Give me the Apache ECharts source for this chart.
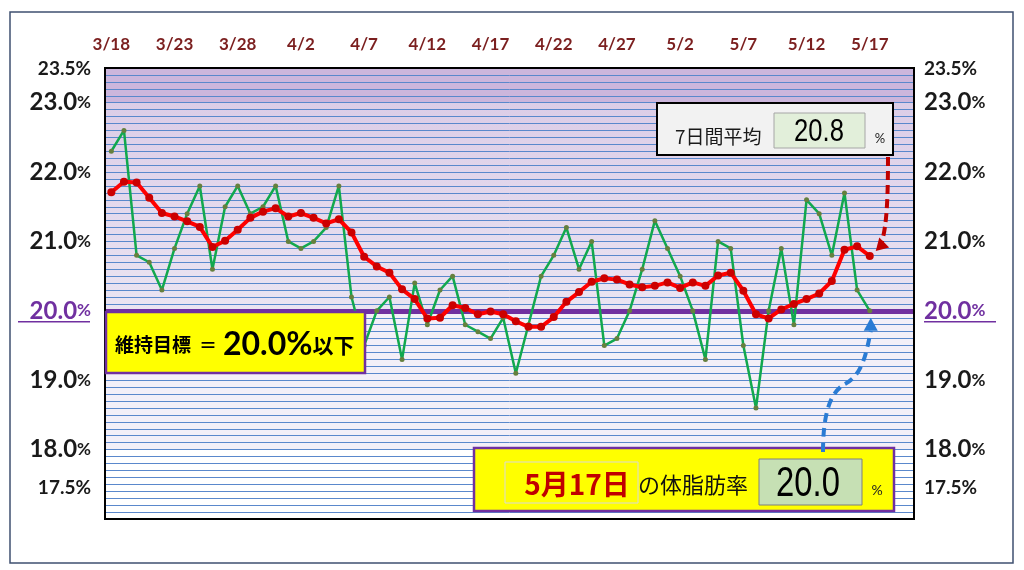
<!DOCTYPE html>
<html><head><meta charset="utf-8">
<script src="https://cdn.jsdelivr.net/npm/echarts@6/dist/echarts.min.js"></script>
<style>html,body{margin:0;padding:0;background:#fff}#c{width:1024px;height:570px}</style>
</head><body><div id="c"></div>
<script>
const dates = ['3/18','3/19','3/20','3/21','3/22','3/23','3/24','3/25','3/26','3/27','3/28','3/29','3/30','3/31',
'4/1','4/2','4/3','4/4','4/5','4/6','4/7','4/8','4/9','4/10','4/11','4/12','4/13','4/14','4/15','4/16','4/17','4/18','4/19','4/20',
'4/21','4/22','4/23','4/24','4/25','4/26','4/27','4/28','4/29','4/30',
'5/1','5/2','5/3','5/4','5/5','5/6','5/7','5/8','5/9','5/10','5/11','5/12','5/13','5/14','5/15','5/16','5/17','5/18','5/19','5/20'];
const daily = [22.3,22.6,20.8,20.7,20.3,20.9,21.4,21.8,20.6,21.5,21.8,21.4,21.5,21.8,21.0,20.9,21.0,21.2,21.8,20.2,
19.5,20.0,20.2,19.3,20.4,19.8,20.3,20.5,19.8,19.7,19.6,19.9,19.1,19.8,20.5,20.8,21.2,20.6,21.0,19.5,
19.6,20.0,20.6,21.3,20.9,20.5,20.0,19.3,21.0,20.9,19.5,18.6,20.0,20.9,19.8,21.6,21.4,20.8,21.7,20.3,20.0];
const avg7 = [21.71,21.86,21.85,21.63,21.41,21.36,21.29,21.21,20.92,21.01,21.17,21.34,21.43,21.48,21.36,21.41,21.34,21.26,21.32,21.13,
20.78,20.64,20.55,20.31,20.17,19.89,19.90,20.08,20.04,19.95,19.99,19.95,19.85,19.77,19.77,19.91,20.13,20.27,20.42,20.47,
20.45,20.38,20.34,20.36,20.41,20.33,20.41,20.36,20.51,20.55,20.29,19.95,19.89,20.02,20.10,20.17,20.25,20.43,20.88,20.93,20.79];
const yTickLabels = [23.5,23.0,22.0,21.0,20.0,19.0,18.0,17.5];
const targetValue = 20.0;
const avgText = '20.8';
const todayText = '20.0';
const todayLabel = '5月17日';

const chart = echarts.init(document.getElementById('c'));
const numFont = 'Lato, "Open Sans", sans-serif';
const jpFont = '"Noto Sans CJK JP", sans-serif';
const narrowFont = '"Liberation Sans Narrow", "Liberation Sans", Arial, sans-serif';

function yFmt(v){
  const k = Math.round(v*10)/10;
  if (!yTickLabels.includes(k)) return '';
  const s = k.toFixed(1);
  if (k === 23.5) return '{s|' + s + '%}';
  if (k === 17.5) return '{s2|' + s + '%}';
  if (k === targetValue) return '{pn|' + s + '}{pp|%}';
  return '{n|' + s + '}{p|%}';
}
const yRich = {
  n:{fontSize:24,fontWeight:'bold',color:'#1a1a1a',fontFamily:numFont},
  p:{fontSize:17,fontWeight:'bold',color:'#1a1a1a',fontFamily:numFont},
  s:{fontSize:19,fontWeight:'bold',color:'#1a1a1a',fontFamily:numFont,padding:[2,0,0,0]},
  s2:{fontSize:19,fontWeight:'bold',color:'#1a1a1a',fontFamily:numFont,padding:[8,0,0,0]},
  pn:{fontSize:24,fontWeight:'bold',color:'#7030a0',fontFamily:numFont},
  pp:{fontSize:17,fontWeight:'bold',color:'#7030a0',fontFamily:numFont}
};

chart.setOption({
  animation:false,
  grid:{left:105,top:68,right:110,bottom:51,containLabel:false},
  xAxis:{type:'category',data:dates,position:'top',boundaryGap:true,
    axisLine:{show:false},axisTick:{show:false},splitLine:{show:false},
    axisLabel:{interval:4,margin:15,color:'#7b1f1f',fontSize:17,fontWeight:'bold',fontFamily:numFont}},
  yAxis:[
    {type:'value',min:17,max:23.5,interval:0.1,position:'left',z:2,
     axisLine:{show:false},axisTick:{show:false},
     splitLine:{show:true,lineStyle:{color:'#5a88cc',width:1}},
     axisLabel:{margin:14,formatter:yFmt,rich:yRich,align:'right'}},
    {type:'value',min:17,max:23.5,interval:0.1,position:'right',
     axisLine:{show:false},axisTick:{show:false},splitLine:{show:false},
     axisLabel:{margin:10,formatter:yFmt,rich:yRich,align:'left'}}
  ],
  series:[
    {type:'line',name:'bg',z:1,data:dates.map(()=>null),symbol:'none',silent:true,
     markArea:{silent:true,data:[
      [{yAxis:23.5,itemStyle:{color:'#ccb6dc'}},{yAxis:23.0}],
      [{yAxis:23.0,itemStyle:{color:{type:'linear',x:0,y:0,x2:0,y2:1,colorStops:[{offset:0,color:'#dccde7'},{offset:1,color:'#ebe4f2'}]}}},{yAxis:20.0}],
      [{yAxis:20.0,itemStyle:{color:'#f3eff8'}},{yAxis:18.0}],
      [{yAxis:18.0,itemStyle:{color:'#ffffff'}},{yAxis:17.0}]
     ]}},
    {type:'line',name:'体脂肪率',z:5,data:daily,symbol:'circle',symbolSize:5,
     lineStyle:{color:'#12a84e',width:2.5},itemStyle:{color:'#66803e'}},
    {type:'line',name:'target',z:6,data:dates.map(()=>null),symbol:'none',silent:true,
     markLine:{silent:true,symbol:'none',label:{show:false},
       lineStyle:{color:'#7030a0',width:5,type:'solid'},data:[{yAxis:targetValue}]}},
    {type:'line',name:'7日間平均',z:7,data:avg7,symbol:'circle',symbolSize:8,
     lineStyle:{color:'#ff0000',width:4},itemStyle:{color:'#cc0000'}}
  ]
});

function arrowHead(tip, angle, len, half, color){
  const bx = tip[0] - Math.cos(angle)*len, by = tip[1] - Math.sin(angle)*len;
  const px = -Math.sin(angle)*half, py = Math.cos(angle)*half;
  return {type:'polygon',z:120,shape:{points:[tip,[bx+px,by+py],[bx-px,by-py]]},style:{fill:color}};
}

const last = dates.indexOf('5/17');
const pAvg = chart.convertToPixel({gridIndex:0},[last, avg7[last]]);
const pDay = chart.convertToPixel({gridIndex:0},[last, daily[last]]);
const yT = chart.convertToPixel({yAxisIndex:0}, targetValue);

const redTip = [pAvg[0]+6, pAvg[1]-5];
const blueTip = [pDay[0]+1, pDay[1]+7];

chart.setOption({graphic:[
  {type:'rect',z:100,shape:{x:10,y:12,width:1003,height:551},style:{fill:'none',stroke:'#3f5070',lineWidth:1.5}},
  {type:'rect',z:100,shape:{x:105,y:68,width:809,height:451},style:{fill:'none',stroke:'#000',lineWidth:2}},
  {type:'line',z:100,shape:{x1:18,y1:yT+11,x2:90,y2:yT+11},style:{stroke:'#7030a0',lineWidth:1.5}},
  {type:'line',z:100,shape:{x1:924,y1:yT+11,x2:996,y2:yT+11},style:{stroke:'#7030a0',lineWidth:1.5}},
  // target box
  {type:'rect',z:110,shape:{x:106,y:312,width:259,height:61},style:{fill:'#ffff00',stroke:'#7030a0',lineWidth:2.5}},
  {type:'text',z:111,x:115,y:345,style:{text:'{a|維持目標}{e|＝}{b|20.0%}{c|以下}',verticalAlign:'middle',
    rich:{a:{fontSize:19,fontWeight:'bold',color:'#4a86c2',fontFamily:jpFont},
          e:{fontSize:18,fontWeight:'bold',color:'#4a86c2',fontFamily:jpFont,padding:[0,6,0,8]},
          b:{fontSize:32,fontWeight:'bold',color:'#1f4e79',fontFamily:numFont},
          c:{fontSize:21,fontWeight:'bold',color:'#1f4e79',fontFamily:jpFont}}}},
  // 7-day box
  {type:'rect',z:110,shape:{x:657,y:103,width:236,height:52},style:{fill:'#f2f2f2',stroke:'#000',lineWidth:2}},
  {type:'text',z:111,x:675,y:137,style:{text:'7日間平均',fontSize:19,fill:'#1a1a1a',fontFamily:jpFont,verticalAlign:'middle'}},
  {type:'rect',z:111,shape:{x:774,y:113,width:91,height:35},style:{fill:'#e2efda',stroke:'#a6a6a6',lineWidth:1}},
  {type:'text',z:112,x:819,y:132,scaleX:0.8,style:{text:avgText,fontSize:32,fill:'#000',fontFamily:narrowFont,align:'center',verticalAlign:'middle'}},
  {type:'text',z:112,x:880,y:139,style:{text:'%',fontSize:13,fill:'#222',fontFamily:numFont,align:'center',verticalAlign:'middle'}},
  // today box
  {type:'rect',z:110,shape:{x:474,y:448,width:420,height:63},style:{fill:'#ffff00',stroke:'#7030a0',lineWidth:2.5}},
  {type:'rect',z:111,shape:{x:505,y:462,width:133,height:41},style:{fill:'#ffff00',stroke:'#d9d9d9',lineWidth:1}},
  {type:'text',z:112,x:577,y:484,style:{text:todayLabel,fontSize:28,fontWeight:'bold',fill:'#c00000',fontFamily:jpFont,align:'center',verticalAlign:'middle'}},
  {type:'text',z:112,x:638,y:485,style:{text:'の体脂肪率',fontSize:22,fill:'#111',fontFamily:jpFont,verticalAlign:'middle'}},
  {type:'rect',z:111,shape:{x:759,y:459,width:103,height:46},style:{fill:'#c6e0b4',stroke:'#7f7f7f',lineWidth:1}},
  {type:'text',z:112,x:808,y:484,scaleX:0.78,style:{text:todayText,fontSize:42,fill:'#000',fontFamily:narrowFont,align:'center',verticalAlign:'middle'}},
  {type:'text',z:112,x:877,y:490,style:{text:'%',fontSize:14,fill:'#222',fontFamily:numFont,align:'center',verticalAlign:'middle'}},
  // arrows
  {type:'bezierCurve',z:115,shape:{x1:888,y1:157,cpx1:888,cpy1:195,cpx2:887,cpy2:225,x2:redTip[0]+6,y2:redTip[1]-9},
    style:{fill:'none',stroke:'#c00000',lineWidth:4,lineDash:[9,5]}},
  arrowHead(redTip, Math.atan2(9,-9), 12, 7, '#c00000'),
  {type:'bezierCurve',z:115,shape:{x1:823,y1:452,cpx1:823,cpy1:420,cpx2:828,cpy2:393,x2:845,y2:384},
    style:{fill:'none',stroke:'#2a7bd4',lineWidth:4,lineDash:[9,6]}},
  {type:'bezierCurve',z:115,shape:{x1:845,y1:384,cpx1:862,cpy1:375,cpx2:866,cpy2:355,x2:blueTip[0],y2:blueTip[1]+13},
    style:{fill:'none',stroke:'#2a7bd4',lineWidth:4,lineDash:[9,6]}},
  arrowHead(blueTip, -Math.PI/2, 13, 7, '#2a7bd4')
]});
</script></body></html>
